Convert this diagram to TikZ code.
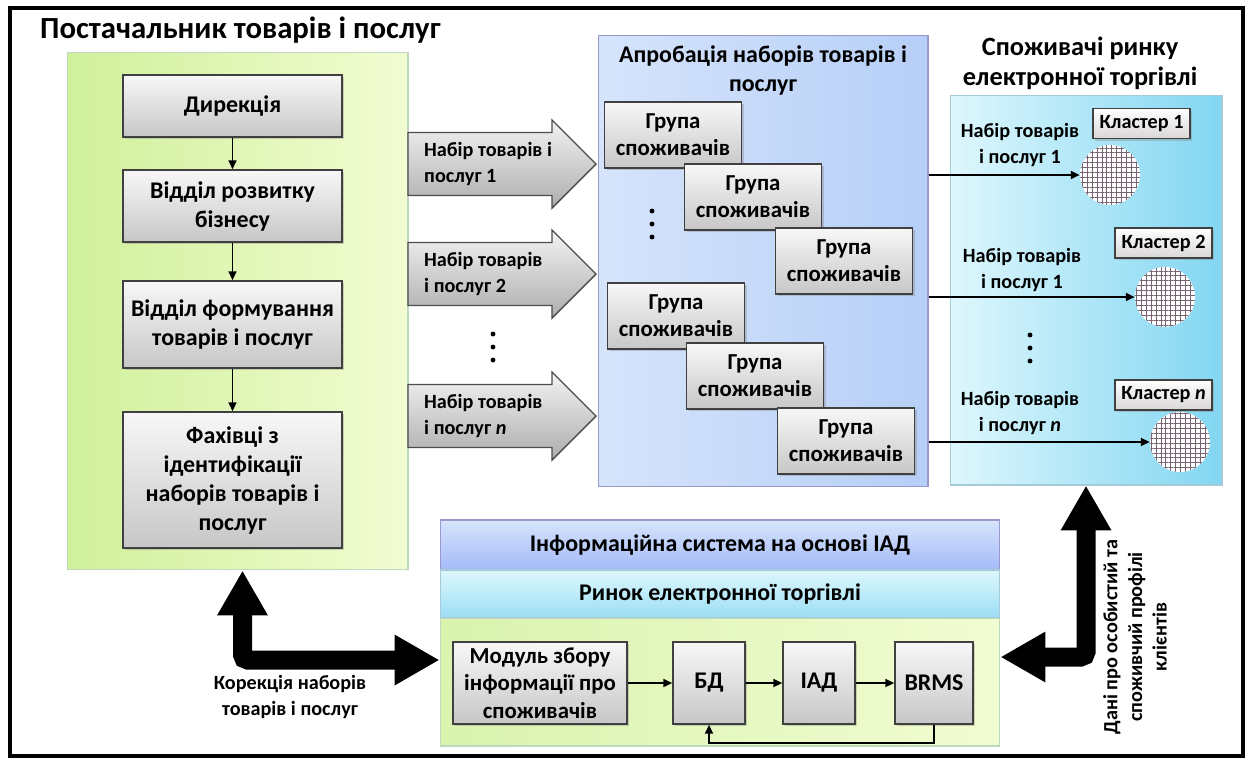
\documentclass[tikz,border=0pt]{standalone}
\usepackage{fontspec}
\setmainfont{Carlito}
\usetikzlibrary{positioning,arrows.meta,shadows,patterns.meta,calc}

\definecolor{grL}{RGB}{208,240,155}
\definecolor{grR}{RGB}{242,252,210}
\definecolor{bluL}{RGB}{214,228,251}
\definecolor{bluR}{RGB}{182,207,247}
\definecolor{cyL}{RGB}{222,247,253}
\definecolor{cyR}{RGB}{130,214,241}
\definecolor{dotc}{RGB}{120,100,112}

\begin{document}
\begin{tikzpicture}[
    x=0.02cm, y=-0.02cm,
    every node/.style={font=\bfseries},
    panel/.style={inner sep=0pt, line width=0.6pt},
    grbox/.style={draw=black!75, line width=0.9pt, top color=black!3, bottom color=black!22, align=center,
        inner sep=2pt, font=\bfseries\fontsize{13.6}{16.5}\selectfont,
        drop shadow={shadow xshift=1.3pt, shadow yshift=-1.3pt, opacity=0.35}},
    grp/.style={grbox, minimum width=2.74cm, minimum height=1.32cm, font=\bfseries\fontsize{13}{15.5}\selectfont},
    clbox/.style={grbox, top color=white, bottom color=red!8!black!16, minimum width=1.94cm, minimum height=0.6cm,
        inner sep=1pt, font=\bfseries\fontsize{11.5}{13}\selectfont},
    clust/.style={circle, minimum size=1.2cm, inner sep=0pt, fill=white,
        postaction={pattern={Hatch[angle=0, distance=2.8pt, line width=0.5pt]}, pattern color=dotc}},
    lbl/.style={font=\bfseries\fontsize{11.5}{14.5}\selectfont, align=center},
    ttl/.style={font=\bfseries\fontsize{13}{16}\selectfont, align=center},
    blkarr/.style={draw=black!70, line width=0.8pt, top color=black!5, bottom color=black!32},
    thinarr/.style={-{Triangle[length=5pt, width=4.5pt]}, line width=1pt},
    bigarr/.style={{Triangle[length=0.9cm, width=0.95cm]}-{Triangle[length=0.9cm, width=0.95cm]}, line width=0.38cm, rounded corners=3pt}
]
\useasboundingbox (0,0) rectangle (1246,758);
\draw[line width=2pt] (10,8) rectangle (1243,756);

% panels
\node[panel, draw=green!40!black!25, left color=grL, right color=grR, minimum width=6.82cm, minimum height=10.36cm] (supp) at (237.5,311) {};
\node[panel, draw=blue!50!black!40, left color=bluL, right color=bluR, minimum width=6.6cm, minimum height=9.04cm] (apro) at (763,261) {};
\node[panel, draw=cyan!60!black!40, left color=cyL, right color=cyR, minimum width=5.44cm, minimum height=7.8cm] (cons) at (1086,290) {};

\node[ttl, font=\bfseries\fontsize{17.5}{20}\selectfont, anchor=west] (suppT) at (34,30) {Постачальник товарів і послуг};
\node[ttl, font=\bfseries\fontsize{13.6}{16.5}\selectfont] (aproT) at (763,70) {Апробація наборів товарів і\\послуг};
\node[ttl, font=\bfseries\fontsize{15}{17}\selectfont] (consT) at (1080,63) {Споживачі ринку\\електронної торгівлі};

% supplier
\node[grbox, minimum width=4.38cm, minimum height=1.24cm] (dir) at (232.5,106) {Дирекція};
\node[grbox, minimum width=4.38cm, minimum height=1.44cm] (dev) at (232.5,206) {Відділ розвитку\\бізнесу};
\node[grbox, minimum width=4.38cm, minimum height=1.74cm] (form) at (232.5,324.5) {Відділ формування\\товарів і послуг};
\node[grbox, minimum width=4.38cm, minimum height=2.72cm] (spec) at (232.5,480) {Фахівці з\\ідентифікації\\наборів товарів і\\послуг};
\draw[thinarr] (dir) -- (dev);
\draw[thinarr] (dev) -- (form);
\draw[thinarr] (form) -- (spec);

% sets of goods
\foreach \yy/\txt [count=\i] in {164/{Набір товарів і\\послуг 1}, 274/{Набір товарів\\і послуг 2}, 416/{Набір товарів\\і послуг \textit{n}}} {
    \draw[blkarr] (408,\yy-31.5) -- (552,\yy-31.5) -- (552,\yy-44) -- (596,\yy) -- (552,\yy+44) -- (552,\yy+31.5) -- (408,\yy+31.5) -- cycle;
    \node[lbl, anchor=west, align=left] (set\i) at (418,\yy) {\txt};
}

% consumer groups
\node[grp] (g1) at (673,135) {Група\\споживачів};
\node[grp] (g2) at (753,197) {Група\\споживачів};
\node[grp] (g3) at (844,261) {Група\\споживачів};
\node[grp] (g4) at (676,316) {Група\\споживачів};
\node[grp] (g5) at (755,376) {Група\\споживачів};
\node[grp] (g6) at (846,441) {Група\\споживачів};

\foreach \dx/\dy in {493/334, 652/211, 1030/335}
    \foreach \d in {0,1,2}
        \fill (\dx,\dy+13*\d) circle (1.4pt);

% clusters
\node[clust] (c1) at (1110,175) {};
\node[clust] (c2) at (1165,297) {};
\node[clust] (cn) at (1180,442) {};
\node[clbox] (k1) at (1141.5,123.5) {Кластер 1};
\node[clbox] (k2) at (1163.5,243) {Кластер 2};
\node[clbox] (kn) at (1163.5,395) {Кластер \textit{n}};
\node[lbl] (l1) at (1020,145) {Набір товарів\\і послуг 1};
\node[lbl] (l2) at (1022,270) {Набір товарів\\і послуг 1};
\node[lbl] (ln) at (1020,413) {Набір товарів\\і послуг \textit{n}};
\draw[thinarr] (apro.east |- c1) -- (c1);
\draw[thinarr] (apro.east |- c2) -- (c2);
\draw[thinarr] (apro.east |- cn) -- (cn);

% information system
\node[panel, draw=blue!50!black!40, top color=bluL, bottom color=bluR!90!blue, minimum width=11.2cm, minimum height=1.0cm,
    font=\bfseries\fontsize{13.6}{16}\selectfont] (info) at (720,545) {Інформаційна система на основі ІАД};
\node[panel, draw=cyan!60!black!40, top color=cyL, bottom color=cyR!80, minimum width=11.2cm, minimum height=0.96cm,
    font=\bfseries\fontsize{13.6}{16}\selectfont] (mrk) at (720,594) {Ринок електронної торгівлі};
\node[panel, draw=green!40!black!25, left color=grL!80, right color=grR, minimum width=11.2cm, minimum height=2.56cm] (grn) at (720,682) {};

\node[grbox, minimum width=3.48cm, minimum height=1.64cm, font=\bfseries\fontsize{13}{15.5}\selectfont] (mod) at (540,683) {Модуль збору\\інформації про\\споживачів};
\node[grbox, minimum width=1.44cm, minimum height=1.64cm] (bd) at (709,683) {БД};
\node[grbox, minimum width=1.44cm, minimum height=1.64cm] (iad) at (819,683) {ІАД};
\node[grbox, minimum width=1.56cm, minimum height=1.64cm] (brms) at (934,683) {BRMS};
\draw[thinarr] (mod) -- (bd);
\draw[thinarr] (bd) -- (iad);
\draw[thinarr] (iad) -- (brms);
\draw[thinarr] (brms.south) -- ++(0,18) -| (bd.south);

% feedback
\draw[bigarr] ([xshift=0.1cm]supp.south) |- ([yshift=0.44cm]grn.west);
\draw[bigarr] (cons.south) |- ([yshift=0.5cm]grn.east);
\node[lbl] (kor) at (290,697) {Корекція наборів\\товарів і послуг};
\node[lbl, font=\bfseries\fontsize{11.5}{14}\selectfont, rotate=90] (dat) at (1135,637) {Дані про особистий та\\споживчий профілі\\клієнтів};
\end{tikzpicture}
\end{document}
